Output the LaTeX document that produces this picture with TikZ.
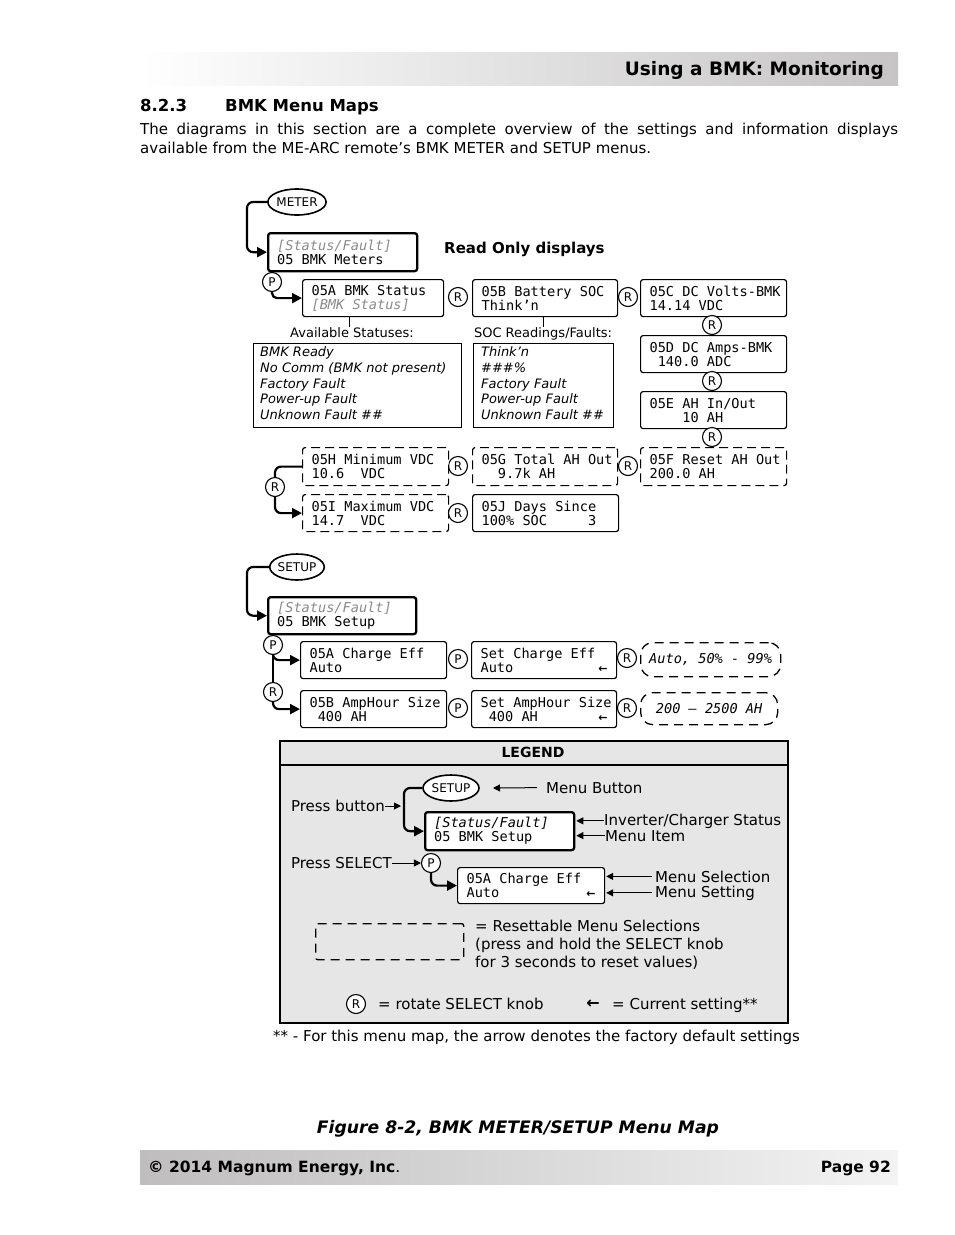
\documentclass[tikz,border=0pt]{standalone}
\usepackage{fontspec}
\setmainfont{DejaVu Sans}
\setmonofont{DejaVu Sans Mono}
\usetikzlibrary{shapes.geometric,arrows.meta}
\definecolor{legendgray}{HTML}{E6E6E6}
\definecolor{hdrgray}{HTML}{C6C4C4}
\definecolor{ftrgray}{HTML}{BFBDBD}
\definecolor{ftrlight}{HTML}{F3F3F3}
\definecolor{lcdgray}{HTML}{8A8A8A}
\newcommand\lcdfont{\ttfamily\fontsize{13.6}{14}\selectfont}
\newcommand\gi[1]{{\color{lcdgray}\itshape #1}}
\newcommand\px[1]{\fontsize{#1}{#1}\selectfont}
\newcommand\cur{\hskip 0pt plus 1fill{\rmfamily\bfseries\fontsize{11}{11}\selectfont ←}\hspace*{2pt}}
\newcommand\ph[1]{\hphantom{#1}}
\newcommand\sq{\hphantom{0}}
\begin{document}
\begin{tikzpicture}[x=1pt,y=-1pt,
  lcd/.style={draw, line width=1.2pt, rounded corners=2.5pt, anchor=north west, align=left,
    inner xsep=9pt, inner ysep=0pt, font=\lcdfont, fill=white, minimum height=37pt},
  lcdthick/.style={lcd, line width=2.3pt},
  lcddash/.style={lcd, dash pattern=on 9pt off 5pt},
  knob/.style={circle, draw, line width=1.1pt, fill=white, minimum size=19pt, inner sep=0pt, font=\px{12}},
  btn/.style={ellipse, draw, line width=1.6pt, fill=white, minimum width=50pt, minimum height=26pt, inner sep=0pt, font=\px{12}},
  conn/.style={line width=2.2pt, rounded corners=6pt, -{Triangle[length=10pt,width=10pt]}},
  plainconn/.style={line width=2.2pt, rounded corners=6pt},
  lead/.style={line width=1pt, -{Triangle[length=7pt,width=7pt]}},
  txt/.style={inner sep=0pt, font=\px{15}},
  small/.style={inner sep=0pt, font=\px{13}},
  itl/.style={inner sep=0pt, font=\px{13}\itshape},
  rng/.style={draw, dash pattern=on 9pt off 6pt, line width=1.3pt, rounded corners=12pt,
    inner sep=0pt, font=\lcdfont\itshape},
]
\useasboundingbox (0,0) rectangle (954,1235);
\fill[white] (0,0) rectangle (954,1235);

% ---------- header ----------
\shade[left color=white, right color=hdrgray] (140,52) rectangle (898,85);
\node[anchor=base east, inner sep=0pt, font=\bfseries\px{18.5}] (hdr) at (884,75) {Using a BMK: Monitoring};
\node[anchor=base west, inner sep=0pt, font=\bfseries\px{16.5}] (secnum) at (140,111) {8.2.3};
\node[anchor=base west, inner sep=0pt, font=\bfseries\px{16.5}] (sectitle) at (225,111) {BMK Menu Maps};
\node[anchor=base west, inner sep=0pt, font=\px{15}] (body1) at (140,134)
  {\makebox[758pt][s]{The diagrams in this section are a complete overview of the settings and information displays}};
\node[anchor=base west, inner sep=0pt, font=\px{15}] (body2) at (140,153)
  {available from the ME-ARC remote’s BMK METER and SETUP menus.};

% ---------- METER section ----------
\node[btn] (meter) at (297,202) {METER};
\node[lcdthick, text width=131pt, minimum height=38pt] (bmkm) at (267,232) {\gi{[Status/Fault]}\\05\sq BMK\sq Meters};
\node[anchor=base west, inner sep=0pt, font=\bfseries\px{15}] (readonly) at (444,253.5) {Read Only displays};
\node[knob] (p1) at (272,282) {P};
\node[lcd, text width=123pt] (a05A) at (302,279) {05A\sq BMK\sq Status\\\gi{[BMK\sq Status]}};
\node[knob] (r1) at (458,297) {R};
\node[lcd, text width=127pt] (a05B) at (472,279) {05B\sq Battery\sq SOC\\Think’n};
\node[knob] (r2) at (628,297) {R};
\node[lcd, text width=128pt] (a05C) at (640,279) {05C\sq DC\sq Volts-BMK\\14.14\sq VDC};
\node[knob] (r3) at (712,325) {R};
\node[lcd, text width=128pt] (a05D) at (640,335) {05D\sq DC\sq Amps-BMK\\\sq 140.0\sq ADC};
\node[knob] (r4) at (712,381) {R};
\node[lcd, text width=128pt] (a05E) at (640,391) {05E\sq AH\sq In/Out\\\sq\sq\sq\sq 10\sq AH};
\node[knob] (r5) at (712,437) {R};
\node[lcddash, text width=128pt, minimum height=38pt] (a05F) at (640,447) {05F\sq Reset\sq AH\sq Out\\200.0\sq AH};
\node[knob] (r6) at (628,466) {R};
\node[lcddash, text width=127pt, minimum height=38pt] (a05G) at (472,447) {05G\sq Total\sq AH\sq Out\\\sq\sq 9.7k\sq AH};
\node[knob] (r7) at (458,466) {R};
\node[lcddash, text width=128pt, minimum height=38pt] (a05H) at (302,447) {05H\sq Minimum\sq VDC\\10.6\sq\sq VDC};
\node[knob] (r8) at (275,487) {R};
\node[lcddash, text width=128pt] (a05I) at (302,494) {05I\sq Maximum\sq VDC\\14.7\sq\sq VDC};
\node[knob] (r9) at (458,513) {R};
\node[lcd, text width=128pt] (a05J) at (472,494) {05J\sq Days\sq Since\\100\%\sq SOC\sq\sq\sq\sq\sq 3};

\draw[conn] (meter.west) -| ([xshift=-20pt]bmkm.west) -- (bmkm.west);
\draw[conn, rounded corners=5pt] (p1.south) |- (a05A.west);
\draw[plainconn] (a05H.west) -| (r8.north);
\draw[conn] (r8.south) |- (a05I.west);

% info lists
\node[anchor=base, small] (avl) at (352,337.5) {Available Statuses:};
\coordinate (avlt) at ([xshift=-3pt]avl.north);
\draw[line width=0.9pt] (avlt |- a05A.south) -- (avlt);
\node[draw, line width=1.3pt, anchor=north west, minimum width=208pt, minimum height=84pt, inner sep=0pt] (stbox) at (253,343) {};
\node[anchor=base west, itl] (st1) at (260,356.5) {BMK Ready};
\node[anchor=base west, itl] (st2) at (260,372.3) {No Comm (BMK not present)};
\node[anchor=base west, itl] (st3) at (260,388.1) {Factory Fault};
\node[anchor=base west, itl] (st4) at (260,403.9) {Power-up Fault};
\node[anchor=base west, itl] (st5) at (260,419.7) {Unknown Fault \#\#};

\node[anchor=base, small] (socl) at (543,337.5) {SOC Readings/Faults:};
\draw[line width=0.9pt] (socl.north |- a05B.south) -- (socl.north);
\node[draw, line width=1.3pt, anchor=north west, minimum width=140pt, minimum height=84pt, inner sep=0pt] (socbox) at (473,343) {};
\node[anchor=base west, itl] (sc1) at (481,356.5) {Think’n};
\node[anchor=base west, itl] (sc2) at (481,372.3) {\#\#\#\%};
\node[anchor=base west, itl] (sc3) at (481,388.1) {Factory Fault};
\node[anchor=base west, itl] (sc4) at (481,403.9) {Power-up Fault};
\node[anchor=base west, itl] (sc5) at (481,419.7) {Unknown Fault \#\#};

% ---------- SETUP section ----------
\node[btn] (setup) at (297,567) {SETUP};
\node[lcdthick, text width=130pt] (bmks) at (267,596) {\gi{[Status/Fault]}\\05\sq BMK\sq Setup};
\node[knob] (p2) at (273,645) {P};
\node[lcd, text width=128pt] (s05A) at (300,641) {05A\sq Charge\sq Eff\\Auto};
\node[knob] (p3) at (458,659) {P};
\node[lcd, text width=127pt] (sset1) at (471,641) {Set\sq Charge\sq Eff\\Auto\cur};
\node[knob] (r10) at (627,658) {R};
\node[rng, minimum width=140pt, minimum height=34pt, anchor=north west] (rng1) at (640,642) {Auto,\sq 50\%\sq -\sq 99\%};
\node[knob] (r11) at (273,692) {R};
\node[lcd, text width=128pt] (s05B) at (300,690) {05B\sq AmpHour\sq Size\\\sq 400\sq AH};
\node[knob] (p4) at (458,708) {P};
\node[lcd, text width=127pt] (sset2) at (471,690) {Set\sq AmpHour\sq Size\\\sq 400\sq AH\cur};
\node[knob] (r12) at (627,708) {R};
\node[rng, minimum width=137pt, minimum height=32pt, anchor=north west] (rng2) at (640,692) {200\sq –\sq 2500\sq AH};

\draw[conn] (setup.west) -| ([xshift=-20pt]bmks.west) -- (bmks.west);
\draw[line width=2.2pt] (p2.south) -- (r11.north);
\draw[conn] (p2.south) |- (s05A.west);
\draw[conn] (r11.south) |- (s05B.west);

% ---------- LEGEND ----------
\node[draw, line width=2pt, fill=legendgray, anchor=north west, minimum width=508pt, minimum height=282pt, inner sep=0pt] (legend) at (279,740) {};
\draw[line width=2pt] (279,765) -- (787,765);
\node[inner sep=0pt, font=\bfseries\px{14}] (legtitle) at (533,752) {LEGEND};

\node[btn, minimum width=56pt] (lsetup) at (451,788) {SETUP};
\node[anchor=base west, txt] (tmb) at (546,793) {Menu Button};
\coordinate (cmb) at (493,788);
\draw[lead] ([xshift=-9pt]tmb.west) -- (cmb);

\node[lcdthick, text width=131pt, minimum height=38pt] (lbox) at (424,811) {{\itshape[Status/Fault]}\\05\sq BMK\sq Setup};
\draw[conn] (lsetup.west) -| ([xshift=-20pt]lbox.west) -- (lbox.west);
\node[anchor=base east, txt] (tpb) at (385,811) {Press button};
\coordinate (cpb) at (401,806);
\draw[lead] (tpb.east |- cpb) -- (cpb);

\node[anchor=base west, txt] (tic) at (604,825) {Inverter/Charger Status};
\draw[lead] (tic.west) -- ([xshift=1pt]lbox.east |- tic.west);
\node[anchor=base west, txt] (tmi) at (605,841) {Menu Item};
\draw[lead] (tmi.west) -- ([xshift=1pt]lbox.east |- tmi.west);

\node[knob] (lp) at (431,863) {P};
\node[anchor=base east, txt] (tps) at (392,868) {Press SELECT};
\draw[lead] (tps.east |- lp.west) -- (lp.west);

\node[lcd, text width=129pt, minimum height=36pt] (lsel) at (457,867) {05A\sq Charge\sq Eff\\Auto\cur};
\draw[conn] (lp.south) |- (lsel.west);
\node[anchor=base west, txt] (tms) at (655,882) {Menu Selection};
\draw[lead] ([xshift=-3pt]tms.west) -- ([xshift=1pt]lsel.east |- tms.west);
\node[anchor=base west, txt] (tmt) at (655,897) {Menu Setting};
\draw[lead] ([xshift=-3pt]tmt.west) -- ([xshift=1pt]lsel.east |- tmt.west);

\node[draw, line width=1.3pt, dash pattern=on 9pt off 6pt, rounded corners=2pt, anchor=north west,
  minimum width=148pt, minimum height=36pt, inner sep=0pt] (ldash) at (315,923) {};
\node[anchor=base west, txt] (tr1) at (475,931) {= Resettable Menu Selections};
\node[anchor=base west, txt] (tr2) at (475,949) {(press and hold the SELECT knob};
\node[anchor=base west, txt] (tr3) at (475,967) {for 3 seconds to reset values)};

\node[knob] (lr) at (356,1004) {R};
\node[anchor=base west, txt] (trot) at (378,1009) {= rotate SELECT knob};
\node[inner sep=0pt, font=\bfseries\px{16}] (larr) at (593,1004) {←};
\node[anchor=base west, txt] (tcur) at (612,1009) {= Current setting**};

\node[anchor=base west, txt] (foot) at (273,1041) {** - For this menu map, the arrow denotes the factory default settings};

% ---------- caption & footer ----------
\node[anchor=base, inner sep=0pt, font=\bfseries\itshape\px{17.2}] (caption) at (518,1133) {Figure 8-2, BMK METER/SETUP Menu Map};
\shade[left color=ftrgray, right color=ftrlight] (140,1150) rectangle (898,1184);
\node[anchor=base west, inner sep=0pt, font=\bfseries\px{15.5}] (copy) at (148,1172) {© 2014 Magnum Energy, Inc{\mdseries .}};
\node[anchor=base east, inner sep=0pt, font=\bfseries\px{15.5}] (page) at (891,1172) {Page 92};
\end{tikzpicture}
\end{document}
